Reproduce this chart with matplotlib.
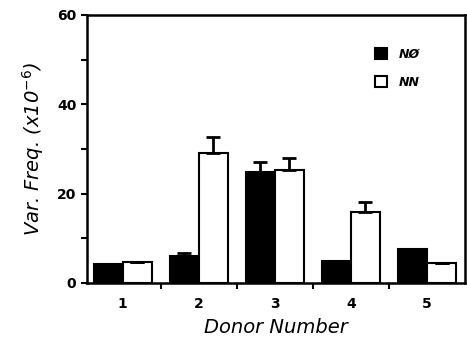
import matplotlib
matplotlib.use('Agg')
import matplotlib.pyplot as plt
import numpy as np

# Data
donors = [1, 2, 3, 4, 5]
n_zero = [4.3, 6.0, 24.9, 5.0, 7.6]
n_zero_err = [0.0, 0.6, 2.2, 0.0, 0.0]
nn = [4.6, 29.0, 25.3, 15.9, 4.5]
nn_err = [0.0, 3.6, 2.6, 2.2, 0.0]

fig = plt.figure(figsize=(4.67, 3.45), dpi=100)
ax = fig.add_axes([0.186, 0.18, 0.81, 0.777])

x = np.array(donors, dtype=float)
w = 0.38
zeros = [0] * len(donors)

ax.bar(x - w / 2, n_zero, w, color='black', edgecolor='black', linewidth=1.5, label='NØ')
ax.bar(x + w / 2, nn, w, color='white', edgecolor='black', linewidth=1.5, label='NN')
ax.errorbar(x - w / 2, n_zero, yerr=[zeros, n_zero_err], fmt='none', ecolor='black',
            elinewidth=2, capsize=5, capthick=2)
ax.errorbar(x + w / 2, nn, yerr=[zeros, nn_err], fmt='none', ecolor='black',
            elinewidth=2, capsize=5, capthick=2)

ax.set_xlim(0.53, 5.5)
ax.set_ylim(0, 60)

# ticks between groups, labels under groups
ax.set_xticks([1.5, 2.5, 3.5, 4.5])
ax.set_xticklabels([])
ax.set_xticks(x, minor=True)
ax.set_xticklabels([str(d) for d in donors], minor=True, fontweight='bold', fontsize=10)
ax.tick_params(axis='x', which='minor', length=0, pad=10)
ax.tick_params(axis='x', which='major', length=4, width=1.5, direction='out')

ax.set_yticks([0, 20, 40, 60])
ax.set_yticklabels(['0', '20', '40', '60'], fontweight='bold', fontsize=10)
ax.set_yticks([10, 30, 50], minor=True)
ax.tick_params(axis='y', which='both', length=4, width=1.5, direction='out')

for s in ax.spines.values():
    s.set_linewidth(1.8)

ax.set_xlabel('Donor Number', fontsize=14, style='italic', labelpad=5)
ax.set_ylabel('Var. Freq. (x10$^{-6}$)', fontsize=14, style='italic', labelpad=8)

leg = ax.legend(loc='upper right', bbox_to_anchor=(0.91, 0.92), frameon=False,
                handlelength=1.0, handleheight=1.0, handletextpad=0.9, labelspacing=1.2,
                prop={'style': 'italic', 'weight': 'bold', 'size': 9})

fig.savefig('out.png', dpi=100)
